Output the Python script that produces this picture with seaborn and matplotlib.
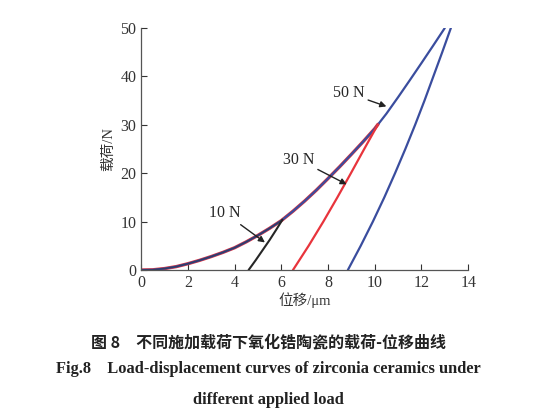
import numpy as np
import pandas as pd

import matplotlib
matplotlib.use('Agg')
import matplotlib.pyplot as plt
import seaborn as sns

# loading curve (shared by all three tests)
load_x = [0, 0.5, 1, 1.5, 2, 2.5, 3, 3.5, 4, 4.5, 5, 5.5, 6, 6.5, 7, 7.5, 8,
          8.5, 9, 9.5, 10, 10.5, 11, 11.5, 12, 12.5, 13]
load_y = [0, 0.05, 0.3, 0.7, 1.3, 2.0, 2.78, 3.64, 4.6, 5.82, 7.16, 8.62, 10.2,
          12.15, 14.25, 16.5, 18.9, 21.35, 23.9, 26.5, 29.2, 32.3, 35.7, 39.2,
          42.75, 46.35, 50]

# unloading curves
unload50_x = [13.26, 12.89, 12.51, 12.13, 11.73, 11.31, 10.87, 10.41, 9.92, 9.40, 8.85]
unload50_y = [50, 45, 40, 35, 30, 25, 20, 15, 10, 5, 0]
unload30_x = [10.14, 9.55, 8.98, 8.40, 7.80, 7.17, 6.5]
unload30_y = [30.1, 25, 20, 15, 10, 5, 0]
unload10_x = [6.05, 5.78, 5.5, 5.2, 4.9, 4.6]
unload10_y = [10.4, 8.3, 6.2, 4.1, 2.0, 0]

loads = ['10 N', '30 N', '50 N']

x_ticks = [0, 2, 4, 6, 8, 10, 12, 14]
y_ticks = [0, 10, 20, 30, 40, 50]

BLUE = '#3a4d9e'
RED = '#e8343c'
BLACK = '#262626'

sns.set_theme(style='ticks')
plt.rcParams['font.family'] = ['Liberation Serif', 'Noto Sans CJK SC']

fig = plt.figure(figsize=(5.6, 4.18), dpi=100)
ax = fig.add_axes([0.252, 0.354, 0.584, 0.579])

lx = np.array(load_x)
ly = np.array(load_y)


def loading_part(x_end, y_end):
    keep = lx < x_end
    return pd.DataFrame({'x': np.append(lx[keep], x_end),
                         'y': np.append(ly[keep], y_end)})


blue_load = pd.DataFrame({'x': lx, 'y': ly})
red_load = loading_part(unload30_x[0], unload30_y[0])
black_load = loading_part(unload10_x[0], unload10_y[0])

sns.lineplot(data=red_load, x='x', y='y', sort=False, color=RED, linewidth=2.4, ax=ax)
sns.lineplot(data=blue_load, x='x', y='y', sort=False, color=BLUE, linewidth=1.6, ax=ax)
sns.lineplot(data=black_load, x='x', y='y', sort=False, color=BLACK, linewidth=1.1, alpha=0.45, ax=ax)

sns.lineplot(x=unload50_x, y=unload50_y, sort=False, color=BLUE, linewidth=1.6, ax=ax)
sns.lineplot(x=unload30_x, y=unload30_y, sort=False, color=RED, linewidth=1.6, ax=ax)
sns.lineplot(x=unload10_x, y=unload10_y, sort=False, color=BLACK, linewidth=1.5, ax=ax)

arrow = dict(arrowstyle='-|>', color='#222222', lw=1.0, mutation_scale=9, shrinkA=0, shrinkB=0)
ax.annotate(loads[2], xy=(10.5, 33.8), xytext=(8.9, 36.5), fontsize=11.5,
            ha='center', va='center', arrowprops=arrow)
ax.annotate(loads[1], xy=(8.8, 17.7), xytext=(6.75, 22.8), fontsize=11.5,
            ha='center', va='center', arrowprops=arrow)
ax.annotate(loads[0], xy=(5.3, 5.7), xytext=(3.6, 11.7), fontsize=11.5,
            ha='center', va='center', arrowprops=arrow)

ax.set_xlim(0, 14)
ax.set_ylim(0, 50)
ax.set_xticks(x_ticks)
ax.set_yticks(y_ticks)
ax.tick_params(direction='in', length=4, width=0.8, labelsize=11.5, colors='#333333')
ax.set_xlabel('位移/μm', fontsize=10.5, color='#333333', labelpad=1)
ax.set_ylabel('载荷/N', fontsize=10.5, color='#333333', labelpad=4)
for side in ['left', 'bottom']:
    ax.spines[side].set_color('#555555')
    ax.spines[side].set_linewidth(0.9)
sns.despine(ax=ax)

cap_font = ['Liberation Serif', 'Noto Sans CJK SC']
fig.text(0.48, 1 - 342 / 418, '图 8　不同施加载荷下氧化锆陶瓷的载荷-位移曲线',
         ha='center', va='center', fontsize=11.5, fontweight='bold',
         family=['Noto Sans CJK SC', 'DejaVu Sans'], color='#222222')
fig.text(0.48, 1 - 369 / 418, 'Fig.8　Load-displacement curves of zirconia ceramics under',
         ha='center', va='center', fontsize=11.8, fontweight='bold',
         family=cap_font, color='#222222')
fig.text(0.48, 1 - 400 / 418, 'different applied load',
         ha='center', va='center', fontsize=11.8, fontweight='bold',
         family=cap_font, color='#222222')

fig.savefig('out.png', dpi=100)
plt.close(fig)
